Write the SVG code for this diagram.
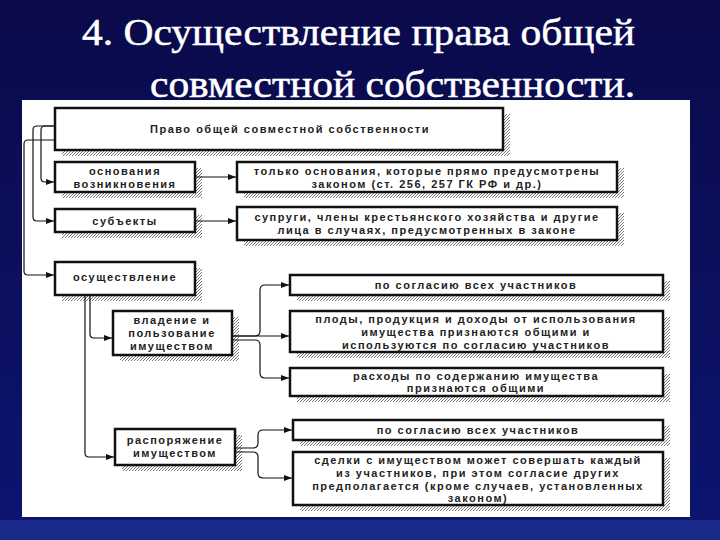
<svg xmlns="http://www.w3.org/2000/svg" width="720" height="540" viewBox="0 0 720 540">
<defs>
<pattern id="h" width="3" height="3" patternUnits="userSpaceOnUse"><rect width="3" height="3" fill="#fff"/><path d="M0,3L3,0" stroke="#777" stroke-width="1"/></pattern>
<marker id="a" markerWidth="8" markerHeight="6" refX="8" refY="3" orient="auto" markerUnits="userSpaceOnUse"><path d="M0,0L8,3L0,6z" fill="#111"/></marker>
<linearGradient id="bg" x1="0" y1="0" x2="0" y2="1"><stop offset="0" stop-color="#0a0a4a"/><stop offset="1" stop-color="#0c1470"/></linearGradient>
</defs>
<style>
.b{fill:#fff;stroke:#111;stroke-width:2.5}
.s{fill:url(#h)}
.t{font-family:"Liberation Sans",Arial,sans-serif;font-size:11px;font-weight:bold;fill:#222;text-anchor:middle;letter-spacing:1.5px}
.c{fill:none;stroke:#111;stroke-width:1.2;marker-end:url(#a)}
.ti{font-family:"Liberation Serif","Times New Roman",serif;font-size:37px;fill:#fff;stroke:#fff;stroke-width:0.5}
</style>
<rect width="720" height="540" fill="url(#bg)"/>
<rect x="0" y="520" width="720" height="20" fill="#1a2a8a"/>
<text class="ti" x="82" y="45" textLength="553" lengthAdjust="spacingAndGlyphs">4. Осуществление права общей</text>
<text class="ti" x="150" y="97" textLength="485" lengthAdjust="spacingAndGlyphs">совместной собственности.</text>
<rect x="22" y="100" width="668" height="417" fill="#fff"/>
<g id="n1"><rect class="s" x="62" y="114" width="448" height="42"/><rect class="b" x="55" y="108" width="448" height="42"/><text class="t" x="290" y="133">Право  общей  совместной  собственности</text></g>
<g id="n2"><rect class="s" x="62" y="168" width="140" height="30"/><rect class="b" x="55" y="162" width="140" height="30"/><text class="t" x="125" y="175">основания</text><text class="t" x="125" y="188">возникновения</text></g>
<g id="n3"><rect class="s" x="244" y="168" width="380" height="30"/><rect class="b" x="237" y="162" width="380" height="30"/><text class="t" x="427" y="175">только основания, которые прямо предусмотрены</text><text class="t" x="427" y="188">законом (ст. 256, 257 ГК РФ и др.)</text></g>
<g id="n4"><rect class="s" x="62" y="215" width="140" height="23"/><rect class="b" x="55" y="209" width="140" height="23"/><text class="t" x="125" y="225">субъекты</text></g>
<g id="n5"><rect class="s" x="244" y="213" width="380" height="33"/><rect class="b" x="237" y="207" width="380" height="33"/><text class="t" x="427" y="221">супруги, члены крестьянского хозяйства и другие</text><text class="t" x="427" y="234">лица в случаях, предусмотренных в законе</text></g>
<g id="n6"><rect class="s" x="62" y="268" width="140" height="33"/><rect class="b" x="55" y="262" width="140" height="33"/><text class="t" x="125" y="281">осуществление</text></g>
<g id="n7"><rect class="s" x="297" y="281" width="373" height="20"/><rect class="b" x="290" y="275" width="373" height="20"/><text class="t" x="476" y="289">по согласию всех участников</text></g>
<g id="n8"><rect class="s" x="120" y="317" width="119" height="44"/><rect class="b" x="113" y="311" width="119" height="44"/><text class="t" x="172" y="324">владение и</text><text class="t" x="172" y="337">пользование</text><text class="t" x="172" y="350">имуществом</text></g>
<g id="n9"><rect class="s" x="297" y="317" width="373" height="41"/><rect class="b" x="290" y="311" width="373" height="41"/><text class="t" x="476" y="323">плоды, продукция и доходы от использования</text><text class="t" x="476" y="336">имущества признаются общими и</text><text class="t" x="476" y="349">используются по согласию участников</text></g>
<g id="n10"><rect class="s" x="297" y="374" width="373" height="28"/><rect class="b" x="290" y="368" width="373" height="28"/><text class="t" x="476" y="380">расходы по содержанию имущества</text><text class="t" x="476" y="392">признаются общими</text></g>
<g id="n11"><rect class="s" x="300" y="426" width="370" height="20"/><rect class="b" x="293" y="420" width="370" height="20"/><text class="t" x="478" y="434">по согласию всех участников</text></g>
<g id="n12"><rect class="s" x="122" y="435" width="120" height="36"/><rect class="b" x="115" y="429" width="120" height="36"/><text class="t" x="175" y="444">распоряжение</text><text class="t" x="175" y="457">имуществом</text></g>
<g id="n13"><rect class="s" x="300" y="458" width="370" height="53"/><rect class="b" x="293" y="452" width="370" height="53"/><text class="t" x="478" y="464">сделки с имуществом может совершать каждый</text><text class="t" x="478" y="477">из участников, при этом согласие других</text><text class="t" x="478" y="490">предполагается (кроме случаев, установленных</text><text class="t" x="478" y="502">законом)</text></g>
<g id="connectors">
<path class="c" d="M55,126H45Q41,126 41,130V178Q41,182 45,182H54"/>
<path class="c" d="M55,126H37Q33,126 33,130V217Q33,221 37,221H54"/>
<path class="c" d="M55,140H28Q24,140 24,144V271Q24,275 28,275H54"/>
<path class="c" d="M195,177H236"/>
<path class="c" d="M195,221H236"/>
<path class="c" d="M90,295V334Q90,338 94,338H112"/>
<path class="c" d="M85,295V453Q85,457 89,457H114"/>
<path class="c" d="M232,336H255Q260,336 260,331V290Q260,285 265,285H289"/>
<path class="c" d="M232,336H289"/>
<path class="c" d="M232,340H255Q260,340 260,345V373Q260,378 265,378H289"/>
<path class="c" d="M235,448H253Q258,448 258,443V435Q258,430 263,430H292"/>
<path class="c" d="M235,452H253Q258,452 258,457V473Q258,478 263,478H292"/>
</g>
</svg>
